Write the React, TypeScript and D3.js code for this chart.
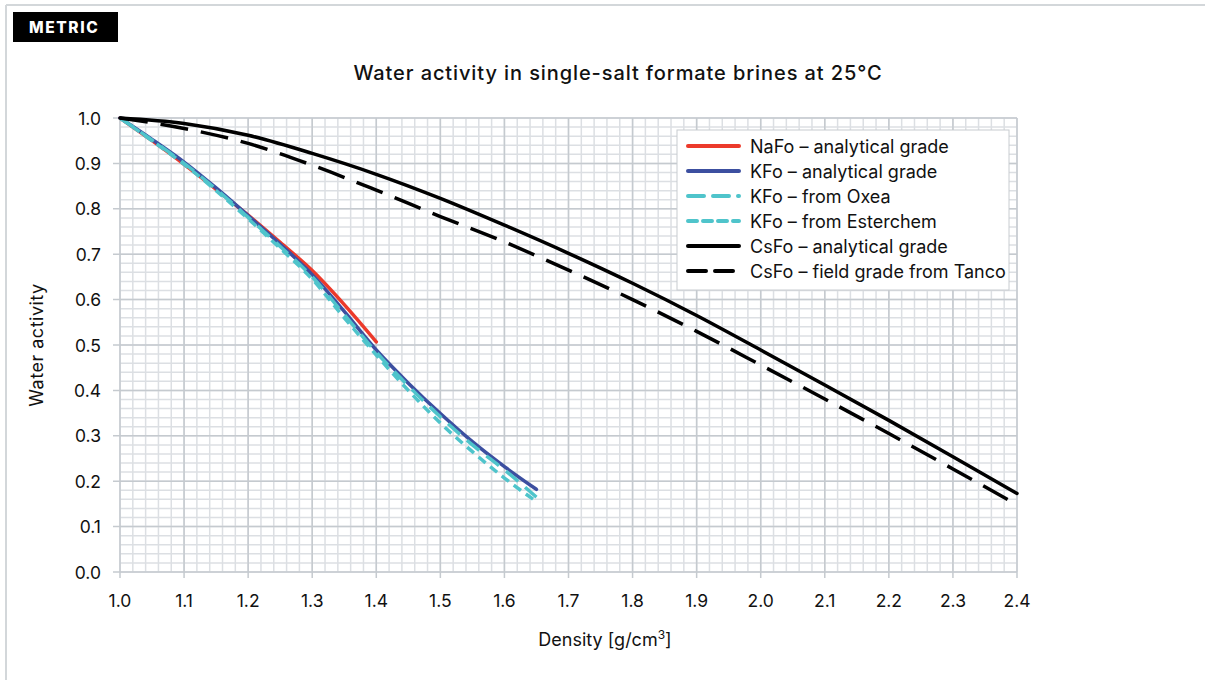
import * as React from "react";
import * as d3 from "d3";

// densities [g/cm3] and water activity
const densityNa = [1.0, 1.05, 1.1, 1.15, 1.2, 1.25, 1.3, 1.35, 1.4];
const awNaFo = [1.0, 0.95, 0.898, 0.843, 0.786, 0.726, 0.664, 0.589, 0.507];

const densityK = [1.0, 1.05, 1.1, 1.15, 1.2, 1.25, 1.3, 1.35, 1.4, 1.45, 1.5, 1.55, 1.6, 1.65];
const awKFo = [1.0, 0.953, 0.903, 0.846, 0.785, 0.722, 0.655, 0.574, 0.489, 0.416, 0.349, 0.287, 0.232, 0.182];
const awKOxea = [1.0, 0.951, 0.9, 0.843, 0.781, 0.717, 0.65, 0.567, 0.484, 0.41, 0.342, 0.28, 0.225, 0.165];
const awKEster = [1.0, 0.95, 0.898, 0.84, 0.778, 0.713, 0.645, 0.56, 0.478, 0.4, 0.328, 0.265, 0.207, 0.155];

const densityCs = [1.0, 1.1, 1.2, 1.3, 1.4, 1.5, 1.6, 1.7, 1.8, 1.9, 2.0, 2.1, 2.2, 2.3, 2.4];
const awCsFo = [1.0, 0.988, 0.962, 0.922, 0.876, 0.823, 0.764, 0.702, 0.636, 0.565, 0.489, 0.412, 0.334, 0.254, 0.173];
const awCsField = [1.0, 0.977, 0.944, 0.896, 0.841, 0.783, 0.727, 0.665, 0.6, 0.53, 0.456, 0.381, 0.305, 0.227, 0.148];

const seriesNames = [
  "NaFo – analytical grade",
  "KFo – analytical grade",
  "KFo – from Oxea",
  "KFo – from Esterchem",
  "CsFo – analytical grade",
  "CsFo – field grade from Tanco",
];

const xTickValues = [1.0, 1.1, 1.2, 1.3, 1.4, 1.5, 1.6, 1.7, 1.8, 1.9, 2.0, 2.1, 2.2, 2.3, 2.4];
const yTickValues = [0.0, 0.1, 0.2, 0.3, 0.4, 0.5, 0.6, 0.7, 0.8, 0.9, 1.0];

const font = "Inter, 'Noto Sans', sans-serif";
const red = "#ec3a2b";
const blue = "#3c4fa0";
const cyan = "#4fc4cb";

const App = () => {
  const width = 1205;
  const height = 680;
  const plot = { left: 120, right: 1017, top: 118, bottom: 572 };

  const x = d3.scaleLinear().domain([1.0, 2.4]).range([plot.left, plot.right]);
  const y = d3.scaleLinear().domain([0, 1]).range([plot.bottom, plot.top]);

  const minorX = d3.range(0, 71).map((i) => 1.0 + i * 0.02);
  const minorY = d3.range(0, 51).map((i) => i * 0.02);

  const series = [
    { name: seriesNames[0], xs: densityNa, ys: awNaFo, color: red, dash: null },
    { name: seriesNames[1], xs: densityK, ys: awKFo, color: blue, dash: null },
    { name: seriesNames[2], xs: densityK, ys: awKOxea, color: cyan, dash: "16 9" },
    { name: seriesNames[3], xs: densityK, ys: awKEster, color: cyan, dash: "9 6" },
    { name: seriesNames[4], xs: densityCs, ys: awCsFo, color: "#000", dash: null },
    { name: seriesNames[5], xs: densityCs, ys: awCsField, color: "#000", dash: "28 13" },
  ];

  const line = d3
    .line<[number, number]>()
    .x((d) => x(d[0]))
    .y((d) => y(d[1]))
    .curve(d3.curveMonotoneX);

  const legend = { x: 677, y: 130, w: 332, h: 160, row: 25 };
  const legendDash = ["", "", "16 9", "9 6", "", "18 9"];

  return (
    <svg
      width={width}
      height={height}
      viewBox={`0 0 ${width} ${height}`}
      style={{ position: "absolute", left: 0, top: 0, background: "#fff" }}
    >
      {/* frame */}
      <line x1={6} y1={5} x2={width} y2={5} stroke="#d3d7da" strokeWidth="2" />
      <line x1={6} y1={5} x2={6} y2={height} stroke="#d3d7da" strokeWidth="2" />

      <rect x={13} y={12} width={105} height={30} fill="#000" />
      <text x={29} y={33} fill="#fff" fontSize="15.5" fontWeight="800" letterSpacing="1.6" fontFamily={font}>
        METRIC
      </text>

      <text x={618} y={80} textAnchor="middle" fontSize="20" fontWeight="500" letterSpacing="0.9" fill="#111" fontFamily={font}>
        Water activity in single-salt formate brines at 25°C
      </text>

      {/* grid */}
      {minorX.map((v, i) => (
        <line key={"mx" + i} x1={x(v)} x2={x(v)} y1={plot.top} y2={plot.bottom} stroke="#dcdfe3" strokeWidth="1.5" />
      ))}
      {minorY.map((v, i) => (
        <line key={"my" + i} x1={plot.left} x2={plot.right} y1={y(v)} y2={y(v)} stroke="#dcdfe3" strokeWidth="1.5" />
      ))}
      {xTickValues.map((v) => (
        <line key={"gx" + v} x1={x(v)} x2={x(v)} y1={plot.top} y2={plot.bottom + 6} stroke="#c5cacf" strokeWidth="1.5" />
      ))}
      {yTickValues.map((v) => (
        <line key={"gy" + v} x1={plot.left - 7} x2={plot.right} y1={y(v)} y2={y(v)} stroke="#c5cacf" strokeWidth="1.5" />
      ))}

      {/* tick labels */}
      {xTickValues.map((v) => (
        <text key={"tx" + v} x={x(v)} y={607} textAnchor="middle" fontSize="17.5" fill="#111" fontFamily={font}>
          {v.toFixed(1)}
        </text>
      ))}
      {yTickValues.map((v) => (
        <text key={"ty" + v} x={101} y={y(v) + 6.5} textAnchor="end" fontSize="17.5" fill="#111" fontFamily={font}>
          {v.toFixed(1)}
        </text>
      ))}

      <text x={605} y={646} textAnchor="middle" fontSize="18" fill="#111" fontFamily={font}>
        Density [g/cm<tspan fontSize="12" dy="-7">3</tspan>
        <tspan dy="7">]</tspan>
      </text>
      <text
        transform={`translate(43, ${(plot.top + plot.bottom) / 2}) rotate(-90)`}
        textAnchor="middle"
        fontSize="18"
        letterSpacing="0.5"
        fill="#111"
        fontFamily={font}
      >
        Water activity
      </text>

      {/* curves */}
      {series.map((s) => (
        <path
          key={s.name}
          d={line(s.xs.map((d, i) => [d, s.ys[i]] as [number, number])) ?? ""}
          fill="none"
          stroke={s.color}
          strokeWidth="3.5"
          strokeDasharray={s.dash ?? undefined}
          strokeLinecap={s.dash ? "butt" : "round"}
        />
      ))}

      {/* legend */}
      <rect x={legend.x} y={legend.y} width={legend.w} height={legend.h} fill="#fff" stroke="#c8ccd0" strokeWidth="1" />
      {series.map((s, i) => {
        const cy = legend.y + 16 + i * legend.row;
        return (
          <g key={"lg" + i}>
            <line
              x1={688}
              x2={739}
              y1={cy}
              y2={cy}
              stroke={s.color}
              strokeWidth="4"
              strokeDasharray={legendDash[i] || undefined}
              strokeLinecap="round"
            />
            <text x={750} y={cy + 6.5} fontSize="18" fill="#111" fontFamily={font}>
              {s.name}
            </text>
          </g>
        );
      })}
    </svg>
  );
};

export default App;
